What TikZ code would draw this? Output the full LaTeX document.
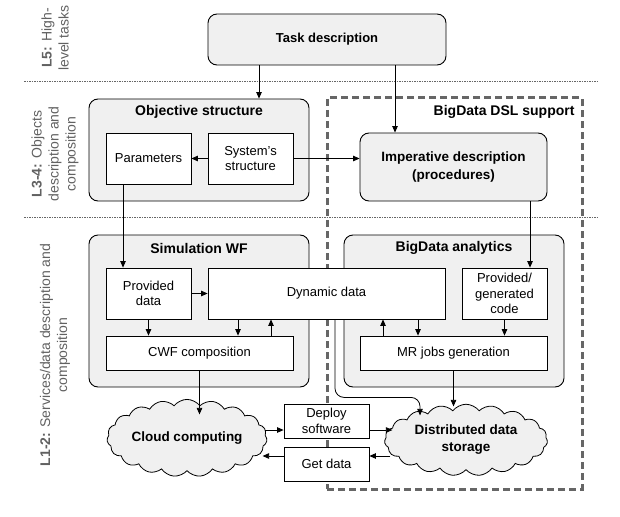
\documentclass[tikz,border=0pt]{standalone}
\usepackage{fontspec}
\setmainfont{Liberation Sans}
\usetikzlibrary{arrows.meta,shapes.symbols,calc}
\begin{document}
\begin{tikzpicture}[x=1pt,y=-1pt, font=\fontsize{13}{15.5}\selectfont,
 cont/.style={draw, line width=0.9pt, rounded corners=9pt, fill=black!6},
 ibox/.style={draw, line width=0.8pt, fill=white, align=center, inner sep=1pt},
 ttl/.style={font=\fontsize{14}{16}\selectfont\bfseries},
 arr/.style={-{Triangle[length=6.5pt,width=5.5pt]}, line width=0.8pt},
 sep/.style={draw=black!60, line width=0.7pt, dash pattern=on 1.5pt off 1pt},
 lbl/.style={rotate=90, align=center, text=black!62, font=\fontsize{14}{17}\selectfont},
 cld/.style={cloud, draw, fill=black!6, line width=0.8pt, cloud puffs=19, cloud puff arc=105, inner sep=0pt, align=center, font=\fontsize{13.5}{17}\selectfont\bfseries}]
\useasboundingbox (0,0) rectangle (620,516);
% separators
\coordinate (s1a) at (24,81); \coordinate (s1b) at (598,81);
\coordinate (s2a) at (24,217); \coordinate (s2b) at (598,217);
\draw[sep] (s1a) -- (s1b);
\draw[sep] (s2a) -- (s2b);
% dashed DSL box
\node[draw=black!60, line width=3pt, dash pattern=on 7pt off 4pt, minimum width=255pt, minimum height=391pt, inner sep=0pt] (dsl) at (454.5,293.5) {};
\node[ttl, anchor=east] (tdsl) at (578,112) {BigData DSL support};
% level labels
\node[lbl] (l5) at (55,38) {\textbf{L5:} High-\\level tasks};
\node[lbl] (l34) at (55,154) {\textbf{L3-4:} Objects\\description and\\composition};
\node[lbl] (l12) at (55,355) {\textbf{L1-2:} Services/data description and\\composition};
% containers
\node[cont, minimum width=238pt, minimum height=51pt, font=\fontsize{13}{15}\selectfont\bfseries] (task) at (327,39.5) {Task description};
\node[cont, minimum width=220pt, minimum height=102pt] (obj) at (199,150) {};
\node[ttl] (tobj) at (199,112) {Objective structure};
\node[cont, minimum width=187pt, minimum height=68pt, align=center, font=\fontsize{13.5}{18}\selectfont\bfseries] (imper) at (453.5,167) {Imperative description\\(procedures)};
\node[cont, minimum width=220pt, minimum height=152pt] (sim) at (199,311) {};
\node[ttl] (tsim) at (199,248) {Simulation WF};
\node[cont, minimum width=220pt, minimum height=152pt] (bda) at (454,311) {};
\node[ttl] (tbda) at (454,248) {BigData analytics};
% inner boxes
\node[ibox, minimum width=85pt, minimum height=51pt] (params) at (148.5,158.5) {Parameters};
\node[ibox, minimum width=85pt, minimum height=51pt] (sys) at (250.5,158.5) {System's\\structure};
\node[ibox, minimum width=85pt, minimum height=51pt] (prov) at (148.5,293.5) {Provided\\data};
\node[ibox, minimum width=237pt, minimum height=51pt] (dyn) at (326.5,293.5) {Dynamic data};
\node[ibox, minimum width=85pt, minimum height=51pt] (code) at (504.5,293.5) {Provided/\\generated\\code};
\node[ibox, minimum width=187pt, minimum height=34pt] (cwf) at (199.5,353) {CWF composition};
\node[ibox, minimum width=187pt, minimum height=34pt] (mr) at (453.5,353) {MR jobs generation};
\node[ibox, minimum width=85pt, minimum height=34pt] (deploy) at (326.5,421) {Deploy\\software};
\node[ibox, minimum width=85pt, minimum height=34pt] (getd) at (326.5,464) {Get data};
% clouds
\node[cld, aspect=2.4, minimum width=160pt, minimum height=66pt] (cc) at (187,438) {Cloud computing};
\node[cld, aspect=2.4, minimum width=163pt, minimum height=70pt] (ds) at (466,440) {Distributed data\\storage};
% arrows
\coordinate (t1) at ([xshift=-68pt]task.south);
\draw[arr] (t1) -- (t1 |- obj.north);
\coordinate (t2) at ([xshift=68pt]task.south);
\draw[arr] (t2) -- (t2 |- imper.north);
\draw[arr] (sys.west) -- (params.east);
\draw[arr] (sys.east) -- (sys.east -| imper.west);
\coordinate (c1) at ([xshift=25.5pt]code.north);
\draw[arr] (c1 |- imper.south) -- (c1);
\coordinate (p1) at ([xshift=-25.5pt]params.south);
\draw[arr] (p1) -- (p1 |- prov.north);
\draw[arr] (prov.east) -- (dyn.west);
\draw[arr] (prov.south) -- (prov.south |- cwf.north);
\coordinate (d1) at ([xshift=-88.5pt]dyn.south);
\draw[arr] (d1) -- (d1 |- cwf.north);
\coordinate (d2) at ([xshift=-55.5pt]dyn.south);
\draw[arr] (d2 |- cwf.north) -- (d2);
\coordinate (d3) at ([xshift=56.5pt]dyn.south);
\draw[arr] (d3 |- mr.north) -- (d3);
\coordinate (d4) at ([xshift=91.5pt]dyn.south);
\draw[arr] (d4) -- (d4 |- mr.north);
\draw[arr] (code.south) -- (code.south |- mr.north);
\coordinate (cw) at ([yshift=-44pt]cwf.south);
\draw[arr] (cwf.south) -- (cw);
\coordinate (mw) at ([yshift=-36pt]mr.south);
\draw[arr] (mr.south) -- (mw);
\coordinate (d5) at ([xshift=8.5pt]dyn.south);
\draw[arr, rounded corners=9pt] (d5) -- ++(0,78) -- ++(85,0) -- ++(0,18);
\coordinate (a1) at ([yshift=-9pt]deploy.west);
\coordinate (a0) at ([xshift=-19pt]a1);
\draw[arr] (a0) -- (a1);
\coordinate (a2) at ([yshift=-9pt]deploy.east);
\coordinate (a3) at ([xshift=23pt]a2);
\draw[arr] (a2) -- (a3);
\coordinate (g1) at ([yshift=8pt]getd.east);
\coordinate (g0) at ([xshift=21pt]g1);
\draw[arr] (g0) -- (g1);
\coordinate (g2) at ([yshift=8pt]getd.west);
\coordinate (g3) at ([xshift=-21pt]g2);
\draw[arr] (g2) -- (g3);
\end{tikzpicture}
\end{document}
